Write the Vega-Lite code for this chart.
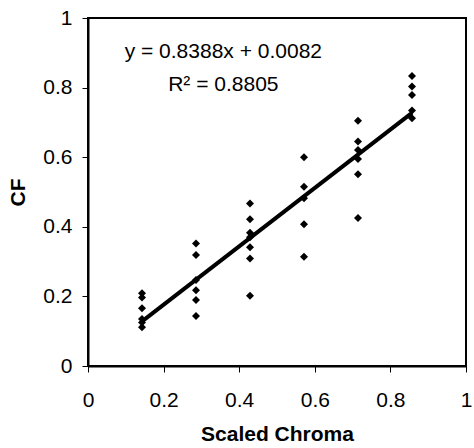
{
  "$schema": "https://vega.github.io/schema/vega-lite/v6.json",
  "width": 378,
  "height": 348,
  "autosize": {"type": "none"},
  "padding": {"left": 88, "top": 18, "right": 8, "bottom": 82},
  "background": "white",
  "config": {
    "view": {"stroke": "black", "strokeWidth": 2},
    "font": "Liberation Sans",
    "axis": {
      "grid": false,
      "domainColor": "black",
      "domainWidth": 2,
      "tickColor": "black",
      "tickWidth": 1,
      "tickSize": 6,
      "labelFont": "Liberation Sans",
      "labelFontSize": 21,
      "labelColor": "black",
      "titleFont": "Liberation Sans",
      "titleFontSize": 21,
      "titleFontWeight": "bold",
      "titleColor": "black"
    }
  },
  "datasets": {
    "points": [
      {"chroma": 0.1429, "cf": 0.209},
      {"chroma": 0.1429, "cf": 0.197},
      {"chroma": 0.1429, "cf": 0.166},
      {"chroma": 0.1429, "cf": 0.135},
      {"chroma": 0.1429, "cf": 0.125},
      {"chroma": 0.1429, "cf": 0.111},
      {"chroma": 0.2857, "cf": 0.352},
      {"chroma": 0.2857, "cf": 0.319},
      {"chroma": 0.2857, "cf": 0.247},
      {"chroma": 0.2857, "cf": 0.218},
      {"chroma": 0.2857, "cf": 0.19},
      {"chroma": 0.2857, "cf": 0.144},
      {"chroma": 0.4286, "cf": 0.467},
      {"chroma": 0.4286, "cf": 0.422},
      {"chroma": 0.4286, "cf": 0.383},
      {"chroma": 0.4286, "cf": 0.37},
      {"chroma": 0.4286, "cf": 0.341},
      {"chroma": 0.4286, "cf": 0.309},
      {"chroma": 0.4286, "cf": 0.202},
      {"chroma": 0.5714, "cf": 0.6},
      {"chroma": 0.5714, "cf": 0.515},
      {"chroma": 0.5714, "cf": 0.482},
      {"chroma": 0.5714, "cf": 0.407},
      {"chroma": 0.5714, "cf": 0.314},
      {"chroma": 0.7143, "cf": 0.705},
      {"chroma": 0.7143, "cf": 0.645},
      {"chroma": 0.7143, "cf": 0.621},
      {"chroma": 0.7143, "cf": 0.595},
      {"chroma": 0.7143, "cf": 0.551},
      {"chroma": 0.7143, "cf": 0.425},
      {"chroma": 0.8571, "cf": 0.833},
      {"chroma": 0.8571, "cf": 0.803},
      {"chroma": 0.8571, "cf": 0.779},
      {"chroma": 0.8571, "cf": 0.734},
      {"chroma": 0.8571, "cf": 0.712}
    ],
    "trend": [
      {"chroma": 0.1429, "cf": 0.128},
      {"chroma": 0.8571, "cf": 0.7272}
    ],
    "notes": [
      {"label": "y = 0.8388x + 0.0082", "nx": 0.358, "ny": 0.903},
      {"label": "R² = 0.8805", "nx": 0.358, "ny": 0.807}
    ]
  },
  "layer": [
    {
      "data": {"name": "points"},
      "mark": {"type": "point", "shape": "diamond", "filled": true, "color": "black", "size": 64, "opacity": 1},
      "encoding": {
        "x": {
          "field": "chroma", "type": "quantitative",
          "scale": {"domain": [0, 1], "nice": false, "zero": false},
          "axis": {"title": "Scaled Chroma", "values": [0, 0.2, 0.4, 0.6, 0.8, 1], "format": "~g", "labelPadding": 17, "titlePadding": 13, "labelFlush": false}
        },
        "y": {
          "field": "cf", "type": "quantitative",
          "scale": {"domain": [0, 1], "nice": false, "zero": false},
          "axis": {"title": "CF", "values": [0, 0.2, 0.4, 0.6, 0.8, 1], "format": "~g", "labelPadding": 10, "titlePadding": 14, "labelFlush": false}
        }
      }
    },
    {
      "data": {"name": "trend"},
      "mark": {"type": "line", "color": "black", "strokeWidth": 4},
      "encoding": {
        "x": {"field": "chroma", "type": "quantitative"},
        "y": {"field": "cf", "type": "quantitative"}
      }
    },
    {
      "data": {"name": "notes"},
      "mark": {"type": "text", "font": "Liberation Sans", "fontSize": 21, "color": "black", "align": "center", "baseline": "middle"},
      "encoding": {
        "x": {"field": "nx", "type": "quantitative"},
        "y": {"field": "ny", "type": "quantitative"},
        "text": {"field": "label"}
      }
    }
  ]
}
